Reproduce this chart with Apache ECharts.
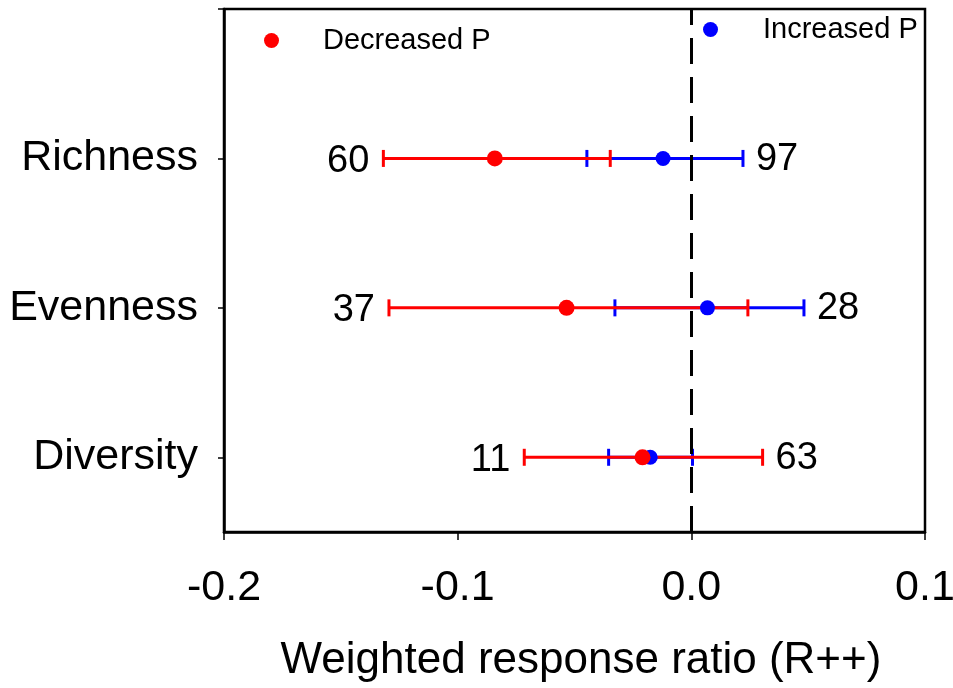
<!DOCTYPE html>
<html>
<head>
<meta charset="utf-8">
<script src="https://cdn.jsdelivr.net/npm/echarts@6/dist/echarts.min.js"></script>
<style>
html,body{margin:0;padding:0;background:#fff;}
#main{width:953px;height:688px;}
</style>
</head>
<body>
<div id="main"></div>
<script>
// Categories (bottom to top)
const categories = ['Diversity', 'Evenness', 'Richness'];
// Decreased P (red): mean, lower CI, upper CI, sample size
const decMean = [-0.0209, -0.0534, -0.0841];
const decLow  = [-0.0715, -0.1294, -0.1318];
const decHigh = [0.0305, 0.0242, -0.0347];
const decN    = [11, 37, 60];
// Increased P (blue): mean, lower CI, upper CI, sample size
const incMean = [-0.0176, 0.0069, -0.0121];
const incLow  = [-0.0354, -0.0327, -0.0447];
const incHigh = [0.0005, 0.0482, 0.0221];
const incN    = [63, 28, 97];
// X axis range / tick step
const xMin = -0.2, xMax = 0.1, xStep = 0.1;

const FONT = '"Liberation Sans", Arial, sans-serif';
const RED = '#ff0000', BLUE = '#0000ff';

function errData(mean, lo, hi) {
  return categories.map((c, i) => [mean[i], i, lo[i], hi[i]]);
}
function makeErrRender(color) {
  return function (params, api) {
    const y = api.value(1);
    const p1 = api.coord([api.value(2), y]);
    const p2 = api.coord([api.value(3), y]);
    const h = 8.5;
    const style = { stroke: color, lineWidth: 3, fill: null };
    return {
      type: 'group',
      children: [
        { type: 'line', shape: { x1: p1[0], y1: p1[1], x2: p2[0], y2: p2[1] }, style: style },
        { type: 'line', shape: { x1: p1[0], y1: p1[1] - h, x2: p1[0], y2: p1[1] + h }, style: style },
        { type: 'line', shape: { x1: p2[0], y1: p2[1] - h, x2: p2[0], y2: p2[1] + h }, style: style }
      ]
    };
  };
}

const labelData = categories.map((c, i) => [
  i,
  Math.min(decLow[i], incLow[i]),
  Math.max(decHigh[i], incHigh[i]),
  decN[i],
  incN[i]
]);

const chart = echarts.init(document.getElementById('main'), null, { renderer: 'canvas' });
chart.setOption({
  animation: false,
  backgroundColor: '#fff',
  textStyle: { fontFamily: FONT },
  grid: {
    left: 224, right: 28, top: 9, bottom: 156,
    containLabel: false, outerBoundsMode: 'none',
    show: true, borderColor: '#000', borderWidth: 2.5, backgroundColor: 'transparent'
  },
  legend: [
    {
      data: [{ name: 'Decreased P', icon: 'circle' }],
      left: 259, top: 21, itemWidth: 15, itemHeight: 15, selectedMode: false,
      textStyle: { fontSize: 29, color: '#000', fontFamily: FONT, padding: [0, 0, 0, 39] }
    },
    {
      data: [{ name: 'Increased P', icon: 'circle' }],
      left: 698, top: 10, itemWidth: 15, itemHeight: 15, selectedMode: false,
      textStyle: { fontSize: 29, color: '#000', fontFamily: FONT, padding: [0, 0, 0, 40] }
    }
  ],
  xAxis: {
    type: 'value',
    min: xMin, max: xMax, interval: xStep,
    splitLine: { show: false },
    axisLine: { show: true, onZero: false, lineStyle: { color: '#000', width: 2.5 } },
    axisTick: { show: true, inside: false, length: 8, lineStyle: { color: '#000', width: 1.5 } },
    axisLabel: {
      fontSize: 43, color: '#000', fontFamily: FONT, margin: 35,
      showMinLabel: true, showMaxLabel: true, hideOverlap: false,
      formatter: function (v) { return v.toFixed(1); }
    },
    name: 'Weighted response ratio (R++)',
    nameLocation: 'middle',
    nameGap: 107,
    nameTextStyle: { fontSize: 44, color: '#000', fontFamily: FONT, padding: [0, 0, 0, 13] }
  },
  yAxis: {
    type: 'value',
    min: -0.5, max: 3,
    splitLine: { show: false },
    axisLine: { show: true, onZero: false, lineStyle: { color: '#000', width: 2.5 } },
    axisTick: { show: true, inside: false, length: 6, lineStyle: { color: '#000', width: 1.5 }, customValues: [0, 1, 2, 3] },
    axisLabel: {
      fontSize: 43, color: '#000', fontFamily: FONT, margin: 26,
      customValues: [0, 1, 2],
      formatter: function (v) { return categories[Math.round(v)] || ''; }
    }
  },
  series: [
    {
      name: 'Increased P bars',
      type: 'custom',
      renderItem: makeErrRender(BLUE),
      encode: { x: [0, 2, 3], y: 1 },
      data: errData(incMean, incLow, incHigh),
      z: 2,
      markLine: {
        silent: true,
        symbol: ['none', 'none'],
        label: { show: false },
        lineStyle: { color: '#000', width: 3, type: [26, 13], opacity: 1 },
        emphasis: { disabled: true },
        data: [{ xAxis: 0 }]
      }
    },
    {
      name: 'Decreased P bars',
      type: 'custom',
      renderItem: makeErrRender(RED),
      encode: { x: [0, 2, 3], y: 1 },
      data: errData(decMean, decLow, decHigh),
      z: 3
    },
    {
      name: 'Increased P',
      type: 'scatter',
      symbol: 'circle',
      symbolSize: 15,
      itemStyle: { color: BLUE, opacity: 1 },
      data: categories.map((c, i) => [incMean[i], i]),
      z: 4
    },
    {
      name: 'Decreased P',
      type: 'scatter',
      symbol: 'circle',
      symbolSize: 16,
      itemStyle: { color: RED, opacity: 1 },
      data: categories.map((c, i) => [decMean[i], i]),
      z: 5
    },
    {
      name: 'counts',
      type: 'custom',
      encode: { x: [1, 2], y: 0 },
      data: labelData,
      z: 6,
      renderItem: function (params, api) {
        const y = api.value(0);
        const pl = api.coord([api.value(1), y]);
        const pr = api.coord([api.value(2), y]);
        const font = '38px ' + FONT;
        return {
          type: 'group',
          children: [
            { type: 'text', x: pl[0] - 14, y: pl[1] + 3,
              style: { text: String(api.value(3)), font: font, fill: '#000', align: 'right', verticalAlign: 'middle' } },
            { type: 'text', x: pr[0] + 13, y: pr[1] + 1,
              style: { text: String(api.value(4)), font: font, fill: '#000', align: 'left', verticalAlign: 'middle' } }
          ]
        };
      }
    }
  ]
});
</script>
</body>
</html>
